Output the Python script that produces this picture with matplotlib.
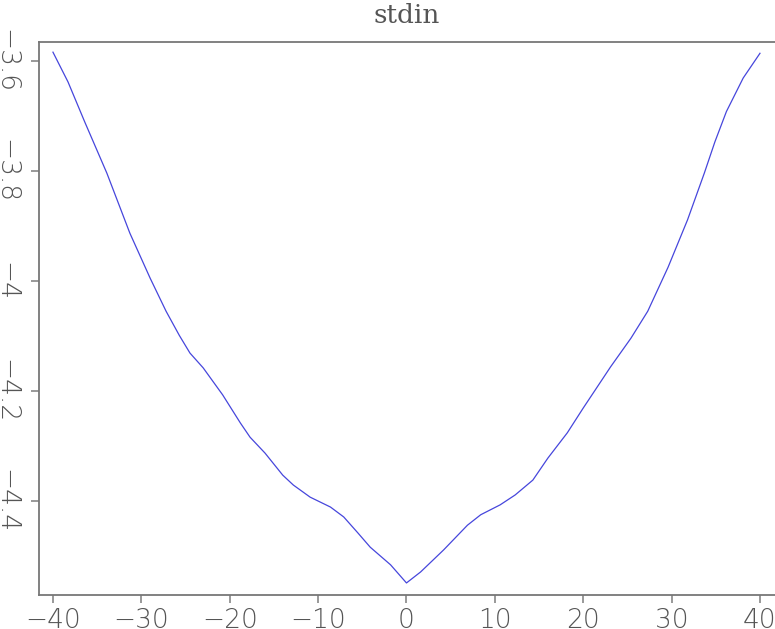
import matplotlib
matplotlib.use("Agg")
from matplotlib import pyplot as plt

# curve
offsets = [-40, -38.3, -36.4, -33.9, -31.3, -29.0, -27.2, -25.7, -24.5,
           -23.0, -20.8, -18.8, -17.7, -16.0, -14.0, -12.8, -10.9, -8.6, -7.1,
           -5.5, -4.1, -1.8, 0.0, 1.6, 4.2, 6.9, 8.4, 10.6, 12.3, 14.3, 16.0,
           18.2, 20.0, 21.2, 23.1, 25.4, 27.3, 29.6, 31.8, 33.7, 34.9, 36.2, 38.1, 40]
values = [-3.584, -3.638, -3.711, -3.804, -3.913, -3.995, -4.055, -4.099, -4.131,
          -4.158, -4.207, -4.258, -4.284, -4.313, -4.353, -4.371, -4.393, -4.411, -4.429,
          -4.458, -4.484, -4.516, -4.549, -4.529, -4.489, -4.444, -4.425, -4.407, -4.389, -4.362, -4.322,
          -4.276, -4.231, -4.202, -4.156, -4.104, -4.055, -3.975, -3.889, -3.804, -3.747, -3.692, -3.631, -3.586]

xticks = [-40, -30, -20, -10, 0, 10, 20, 30, 40]
yticks = [-3.6, -3.8, -4.0, -4.2, -4.4]
ylabels = ["\u22123.6", "\u22123.8", "\u22124", "\u22124.2", "\u22124.4"]

grey = "#555555"
font = "DejaVu Sans"

fig = plt.figure(figsize=(7.75, 6.29), dpi=100)
ax = fig.add_axes([39 / 775, 34 / 629, 736 / 775, 553 / 629])

ax.plot(offsets, values, color="#4646dc", lw=0.9)

ax.set_xlim(-41.58, 41.70)
ax.set_ylim(-4.5709, -3.5655)

ax.spines["right"].set_visible(False)
for s in ["left", "bottom", "top"]:
    ax.spines[s].set_color("#777777")
    ax.spines[s].set_linewidth(1.3)

ax.set_xticks(xticks)
ax.set_xticklabels(["\u2212" + str(abs(t)) if t < 0 else str(t) for t in xticks],
                   fontsize=19, color=grey, family=font, fontweight="light")
ax.set_yticks(yticks)
ax.set_yticklabels(ylabels, fontsize=19, color=grey, family=font,
                   fontweight="light", rotation=-90, va="center")
ax.tick_params(axis="both", direction="out", length=6, width=1.2, color="#888888")
ax.tick_params(axis="x", pad=3)
ax.tick_params(axis="y", pad=9)

ax.set_title("stdin", fontsize=19, color=grey, family="DejaVu Serif", pad=14)

fig.savefig("out.png", dpi=100)
